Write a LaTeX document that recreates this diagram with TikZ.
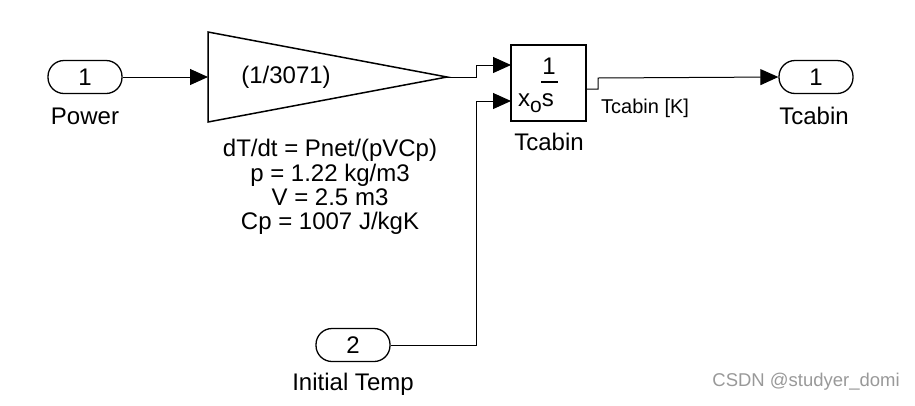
\documentclass[tikz,border=0pt]{standalone}
\usepackage{fontspec}
\setmainfont{Liberation Sans}
\usetikzlibrary{arrows.meta}
\begin{document}
\begin{tikzpicture}[x=1pt,y=-1pt,
  port/.style={draw,line width=1.3pt,rounded corners=16pt,minimum width=74pt,minimum height=33pt,inner sep=0pt,font=\fontsize{24}{24}\selectfont},
  blk/.style={draw,line width=1.5pt,inner sep=0pt},
  lbl/.style={font=\fontsize{24}{24}\selectfont,inner sep=0pt},
  desc/.style={lbl,anchor=base},
  wire/.style={line width=1pt},
  sig/.style={wire,-{Triangle[length=18pt,width=16pt]}}
]
\useasboundingbox (0,0) rectangle (915,405);
% inports / outport
\node[port] (in1) at (85,77) {1};
\node[lbl] (l_in1) at (85,116) {Power};
\node[port] (in2) at (353,345) {2};
\node[lbl] (l_in2) at (353,384) {Initial Temp};
\node[port] (out1) at (816,77) {1};
\node[lbl] (l_out1) at (814,116) {Tcabin};
% gain
\coordinate (gin) at (208,77);
\coordinate (gout) at (447,77);
\draw[line width=1.5pt,line join=miter] (208,32) -- (gout) -- (208,122) -- cycle;
\node[lbl] (gtext) at (286,77) {(1/3071)};
\node[desc] (d1) at (330,156.5) {dT/dt = Pnet/(pVCp)};
\node[desc] (d2) at (330,181.5) {p = 1.22 kg/m3};
\node[desc] (d3) at (330,205.5) {V = 2.5 m3};
\node[desc] (d4) at (330,229.5) {Cp = 1007 J/kgK};
% integrator
\node[blk,minimum width=75pt,minimum height=76pt] (int) at (548.5,83) {};
\coordinate (int1) at (511,65);
\coordinate (int2) at (511,101);
\coordinate (into) at (586,89);
\node[lbl] (one) at (549,66) {1};
\draw[line width=2pt] (541,82) -- (558,82);
\node[lbl,anchor=base west] (xos) at (518,106) {x\raisebox{-6pt}{\fontsize{21}{21}\selectfont o}s};
\node[lbl] (l_int) at (549,142) {Tcabin};
% connectors
\draw[sig] (in1.east) -- (gin);
\draw[sig] (gout) -- (476,77) -- (476,65) -- (int1);
\draw[sig] (in2.east) -- (476,345) -- (476,101) -- (int2);
\draw[sig] (into) -- (598,89) -- (598,78) -- (out1.west);
\node[font=\fontsize{20}{20}\selectfont,inner sep=0pt,anchor=west] (sigl) at (601,108) {Tcabin [K]};
% watermark
\node[font=\fontsize{18.5}{18.5}\selectfont,text=black!40,inner sep=0pt,anchor=east] (wm) at (900,382) {CSDN @studyer\_domi};
\end{tikzpicture}
\end{document}
